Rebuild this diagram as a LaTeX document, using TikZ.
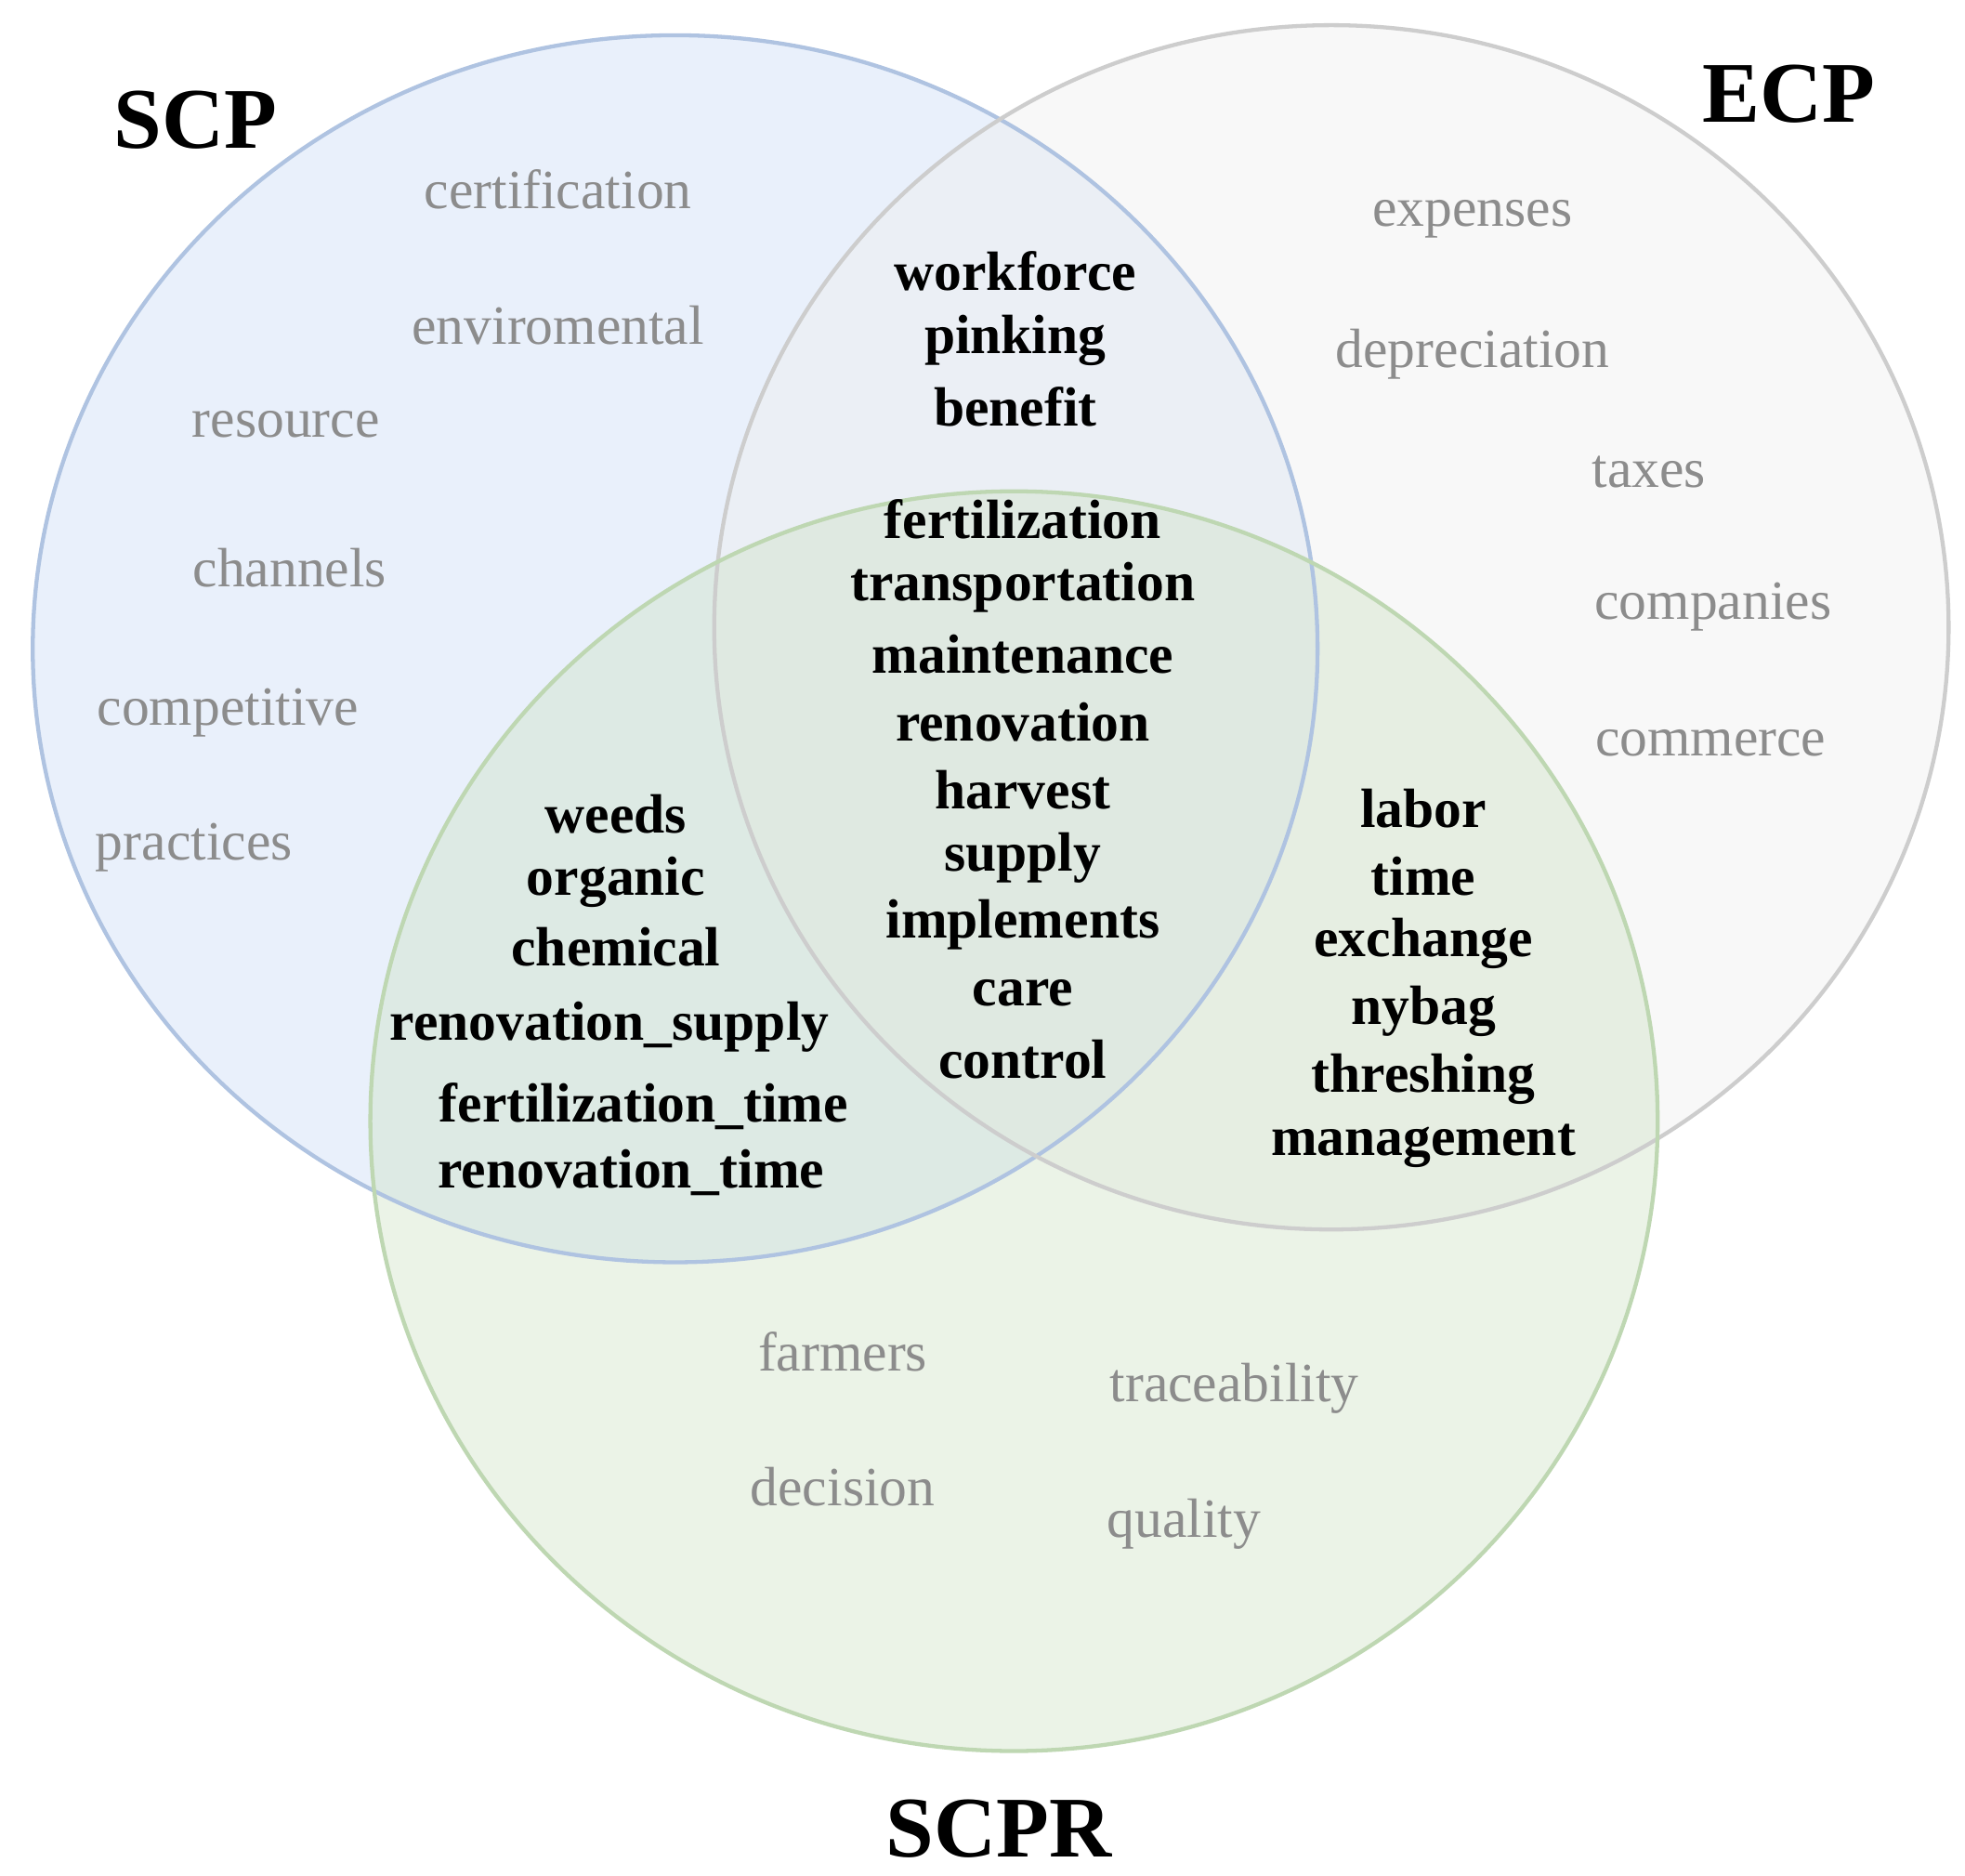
\documentclass[tikz,border=0pt]{standalone}
\usepackage{fontspec}
\setmainfont{Liberation Serif}
\begin{document}
\begin{tikzpicture}[x=0.01cm,y=-0.01cm,
  circ/.style={line width=0.9pt},
  g/.style={text=gtext,font=\fontsize{12.5}{15}\selectfont,anchor=center},
  b/.style={text=black,font=\fontsize{12.5}{15}\selectfont\bfseries,anchor=center},
  t/.style={text=black,font=\fontsize{19.5}{23}\selectfont\bfseries,anchor=center}]
\definecolor{gtext}{RGB}{140,140,140}
\definecolor{bfill}{RGB}{200,218,245}
\definecolor{bline}{RGB}{175,195,225}
\definecolor{efill}{RGB}{238,238,238}
\definecolor{eline}{RGB}{205,205,205}
\definecolor{sfill}{RGB}{205,225,195}
\definecolor{sline}{RGB}{190,215,178}
\useasboundingbox (0,0) rectangle (1560,1489);
\fill[white] (0,0) rectangle (1560,1489);
\fill[bfill,fill opacity=0.4] (536,515) ellipse (510 and 487);
\fill[efill,fill opacity=0.4] (1057,498) ellipse (490 and 478);
\fill[sfill,fill opacity=0.4] (805,890) ellipse (511 and 500);
\draw[circ,bline] (536,515) ellipse (510 and 487);
\draw[circ,eline] (1057,498) ellipse (490 and 478);
\draw[circ,sline] (805,890) ellipse (511 and 500);
\node[t] (scp) at (155,95) {SCP};
\node[t] (ecp) at (1420,75) {ECP};
\node[t] (scpr) at (793,1452) {SCPR};
\node[g] (n1) at (443,150) {certification};
\node[g] (n2) at (443,258) {enviromental};
\node[g] (n3) at (227,337) {resource};
\node[g] (n4) at (230,451) {channels};
\node[g] (n5) at (181,566) {competitive};
\node[g] (n6) at (154,673) {practices};
\node[g] (e1) at (1169,174) {expenses};
\node[g] (e2) at (1169,281) {depreciation};
\node[g] (e3) at (1309,375) {taxes};
\node[g] (e4) at (1360,482) {companies};
\node[g] (e5) at (1358,590) {commerce};
\node[b] (w1) at (806,215) {workforce};
\node[b] (w2) at (806,270) {pinking};
\node[b] (w3) at (806,323) {benefit};
\node[b] (c1) at (812,412) {fertilization};
\node[b] (c2) at (812,466) {transportation};
\node[b] (c3) at (812,519) {maintenance};
\node[b] (c4) at (812,573) {renovation};
\node[b] (c5) at (812,627) {harvest};
\node[b] (c6) at (812,681) {supply};
\node[b] (c7) at (812,734) {implements};
\node[b] (c8) at (812,788) {care};
\node[b] (c9) at (812,841) {control};
\node[b] (l1) at (489,646) {weeds};
\node[b] (l2) at (489,700) {organic};
\node[b] (l3) at (489,752) {chemical};
\node[b] (l4) at (484,815) {renovation\_supply};
\node[b] (l5) at (511,878) {fertilization\_time};
\node[b] (l6) at (501,931) {renovation\_time};
\node[b] (r1) at (1130,642) {labor};
\node[b] (r2) at (1130,696) {time};
\node[b] (r3) at (1130,749) {exchange};
\node[b] (r4) at (1130,803) {nybag};
\node[b] (r5) at (1130,857) {threshing};
\node[b] (r6) at (1130,910) {management};
\node[g] (s1) at (669,1073) {farmers};
\node[g] (s2) at (669,1180) {decision};
\node[g] (s3) at (980,1102) {traceability};
\node[g] (s4) at (940,1210) {quality};
\end{tikzpicture}
\end{document}
